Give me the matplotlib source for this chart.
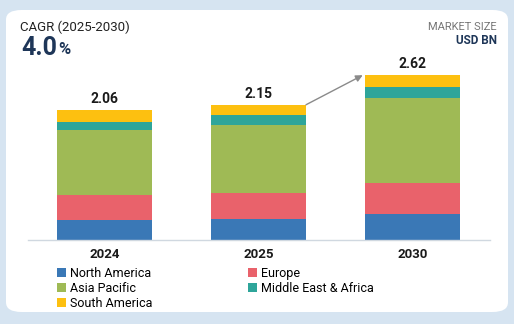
import matplotlib.pyplot as plt
from matplotlib.patches import FancyBboxPatch

plt.rcParams['font.family'] = ['Roboto', 'DejaVu Sans']

# data (USD BN)
years = ['2024', '2025', '2030']
regions = ['North America', 'Europe', 'Asia Pacific', 'Middle East & Africa', 'South America']
north_america = [0.32, 0.33, 0.41]
europe = [0.40, 0.42, 0.50]
asia_pacific = [1.03, 1.08, 1.35]
middle_east_africa = [0.13, 0.15, 0.17]
south_america = [0.18, 0.17, 0.19]
totals = [2.06, 2.15, 2.62]
colors = ['#3a78b6', '#e9626b', '#9fba55', '#2ea59a', '#fdc010']

series = [north_america, europe, asia_pacific, middle_east_africa, south_america]

fig = plt.figure(figsize=(5.14, 3.24), dpi=100)
fig.patch.set_facecolor('#d6e4f1')

# white card
card = FancyBboxPatch((6 / 514, 1 - 312 / 324), 502 / 514, 302 / 324,
                      boxstyle='round,pad=0,rounding_size=0.03',
                      transform=fig.transFigure, facecolor='white',
                      edgecolor='none', zorder=-1)
fig.patches.append(card)

ax = fig.add_axes([27.5 / 514, 84 / 324, 462 / 514, 188.7 / 324])
ax.set_zorder(2)
ax.set_facecolor('none')
x = range(len(years))
w = 0.617
bottom = [0, 0, 0]
handles = []
for name, vals, c in zip(regions, series, colors):
    b = ax.bar(x, vals, w, bottom=bottom, color=c, label=name, zorder=2)
    handles.append(b)
    bottom = [bb + v for bb, v in zip(bottom, vals)]

for i, t in enumerate(totals):
    ax.annotate(f'{t:.2f}', (i, t), xytext=(0, 3), textcoords='offset points',
                ha='center', va='bottom', fontsize=10, fontweight='bold',
                color='#1a1a1a')

# arrow 2025 -> 2030
ax.annotate('', xy=(2 - w / 2 - 0.015, totals[2]), xytext=(1 + w / 2, totals[1]),
            arrowprops=dict(arrowstyle='-|>', color='#8a8a8a', lw=1,
                            mutation_scale=10, shrinkA=0, shrinkB=0))

ax.set_xlim(-0.5, 2.5)
ax.set_ylim(0, 3.0)
ax.set_xticks(list(x))
ax.set_xticklabels(years, fontsize=9.5, fontweight='bold', color='#1a1a1a')
ax.tick_params(axis='x', length=0, pad=6)
ax.set_yticks([])
for s in ['top', 'right', 'left']:
    ax.spines[s].set_visible(False)
ax.spines['bottom'].set_color('#d0d8e0')
ax.spines['bottom'].set_linewidth(1)

# legend, row-wise order
order = [0, 2, 4, 1, 3]
leg = fig.legend([handles[i] for i in order], [regions[i] for i in order],
                 ncol=2, loc='upper left', bbox_to_anchor=(57 / 514, 1 - 267 / 324),
                 frameon=False, fontsize=9, handlelength=0.7, handleheight=0.7,
                 handletextpad=0.3, labelspacing=0.15, columnspacing=7.7,
                 borderaxespad=0, borderpad=0)
leg.set_zorder(3)

# header texts
fig.text(20 / 514, 1 - 27 / 324, 'CAGR (2025-2030)', fontsize=9.5,
         color='#222222', va='center')
fig.text(21 / 514, 1 - 48 / 324, '4.0', fontsize=18, fontweight='bold',
         color='#1e3658', va='center')
fig.text(58 / 514, 1 - 50 / 324, '%', fontsize=12, fontweight='bold',
         color='#1e3658', va='center')
fig.text(497 / 514, 1 - 27 / 324, 'MARKET SIZE', fontsize=8, color='#777777',
         ha='right', va='center')
fig.text(497 / 514, 1 - 41 / 324, 'USD BN', fontsize=8.5, fontweight='bold',
         color='#1e3658', ha='right', va='center')

fig.savefig('out.png', dpi=100, facecolor=fig.get_facecolor())
